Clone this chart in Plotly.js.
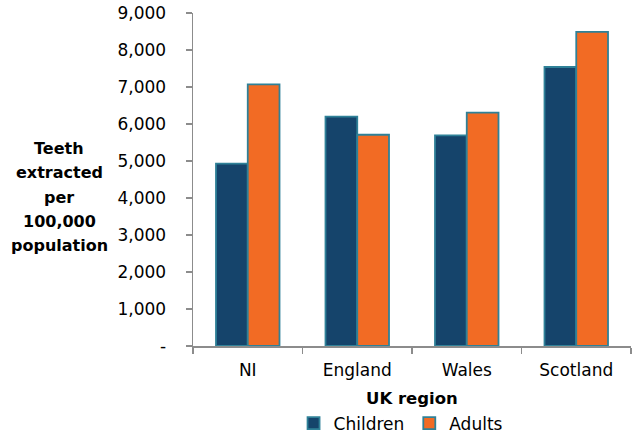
<!DOCTYPE html>
<html>
<head>
<meta charset="utf-8">
<script src="https://cdn.plot.ly/plotly-3.0.1.min.js"></script>
<style>html,body{margin:0;padding:0;background:#fff;}#chart{width:639px;height:437px;}</style>
</head>
<body>
<div id="chart"></div>
<script>
const regions = ["NI", "England", "Wales", "Scotland"];
const children = [4930, 6200, 5690, 7540];
const adults = [7070, 5710, 6310, 8490];
const yTickVals = [0, 1000, 2000, 3000, 4000, 5000, 6000, 7000, 8000, 9000];
const yTickText = ["-", "1,000", "2,000", "3,000", "4,000", "5,000", "6,000", "7,000", "8,000", "9,000"];
const yTitleLines = ["Teeth", "extracted", "per", "100,000", "population"];

const outline = {color: "#2F8198", width: 1.8};
const traces = [
  {type: "bar", name: "Children", x: regions, y: children,
   marker: {color: "#15446B", line: outline}},
  {type: "bar", name: "Adults", x: regions, y: adults,
   marker: {color: "#F26B24", line: outline}}
];

const font = "DejaVu Sans, sans-serif";
const annotations = yTitleLines.map((t, i) => ({
  text: "<b>" + t + "</b>", xref: "paper", yref: "paper",
  x: -0.305, xanchor: "center", yanchor: "middle",
  y: (345.5 - (148 + i * 24.4)) / 332.5,
  showarrow: false, font: {family: font, size: 16, color: "#000"}
}));
annotations.push({
  text: "<b>UK region</b>", xref: "paper", yref: "paper",
  x: 0.5, xanchor: "center", y: (345.5 - 398) / 332.5, yanchor: "middle",
  showarrow: false, font: {family: font, size: 16.5, color: "#000"}
});

const layout = {
  width: 639, height: 437,
  margin: {l: 193, r: 8, t: 13, b: 91, autoexpand: false},
  paper_bgcolor: "#fff", plot_bgcolor: "#fff",
  barmode: "group", bargap: 0.42, bargroupgap: 0,
  font: {family: font, size: 17, color: "#000"},
  showlegend: true,
  legend: {orientation: "h", x: 0.475, xanchor: "center", y: (345.5 - 423) / 332.5, yanchor: "middle",
           font: {family: font, size: 17, color: "#000"}, itemwidth: 30, tracegroupgap: 0},
  xaxis: {
    type: "category", showline: true, linecolor: "#8C8C8C", linewidth: 1.5,
    ticks: "outside", tickson: "boundaries", ticklen: 6, tickcolor: "#8C8C8C", tickwidth: 1.5,
    showgrid: false, zeroline: false, automargin: false, ticklabelstandoff: 8,
    tickfont: {family: font, size: 17, color: "#000"}
  },
  yaxis: {
    range: [0, 9000], tickvals: yTickVals, ticktext: yTickText,
    showline: true, linecolor: "#8C8C8C", linewidth: 1.5,
    ticks: "outside", ticklen: 6, tickcolor: "#8C8C8C", tickwidth: 1.5,
    showgrid: false, zeroline: false, automargin: false, ticklabelstandoff: 16,
    tickfont: {family: font, size: 17, color: "#000"}
  },
  annotations: annotations
};

Plotly.newPlot("chart", traces, layout, {displayModeBar: false, staticPlot: true});
</script>
</body>
</html>
